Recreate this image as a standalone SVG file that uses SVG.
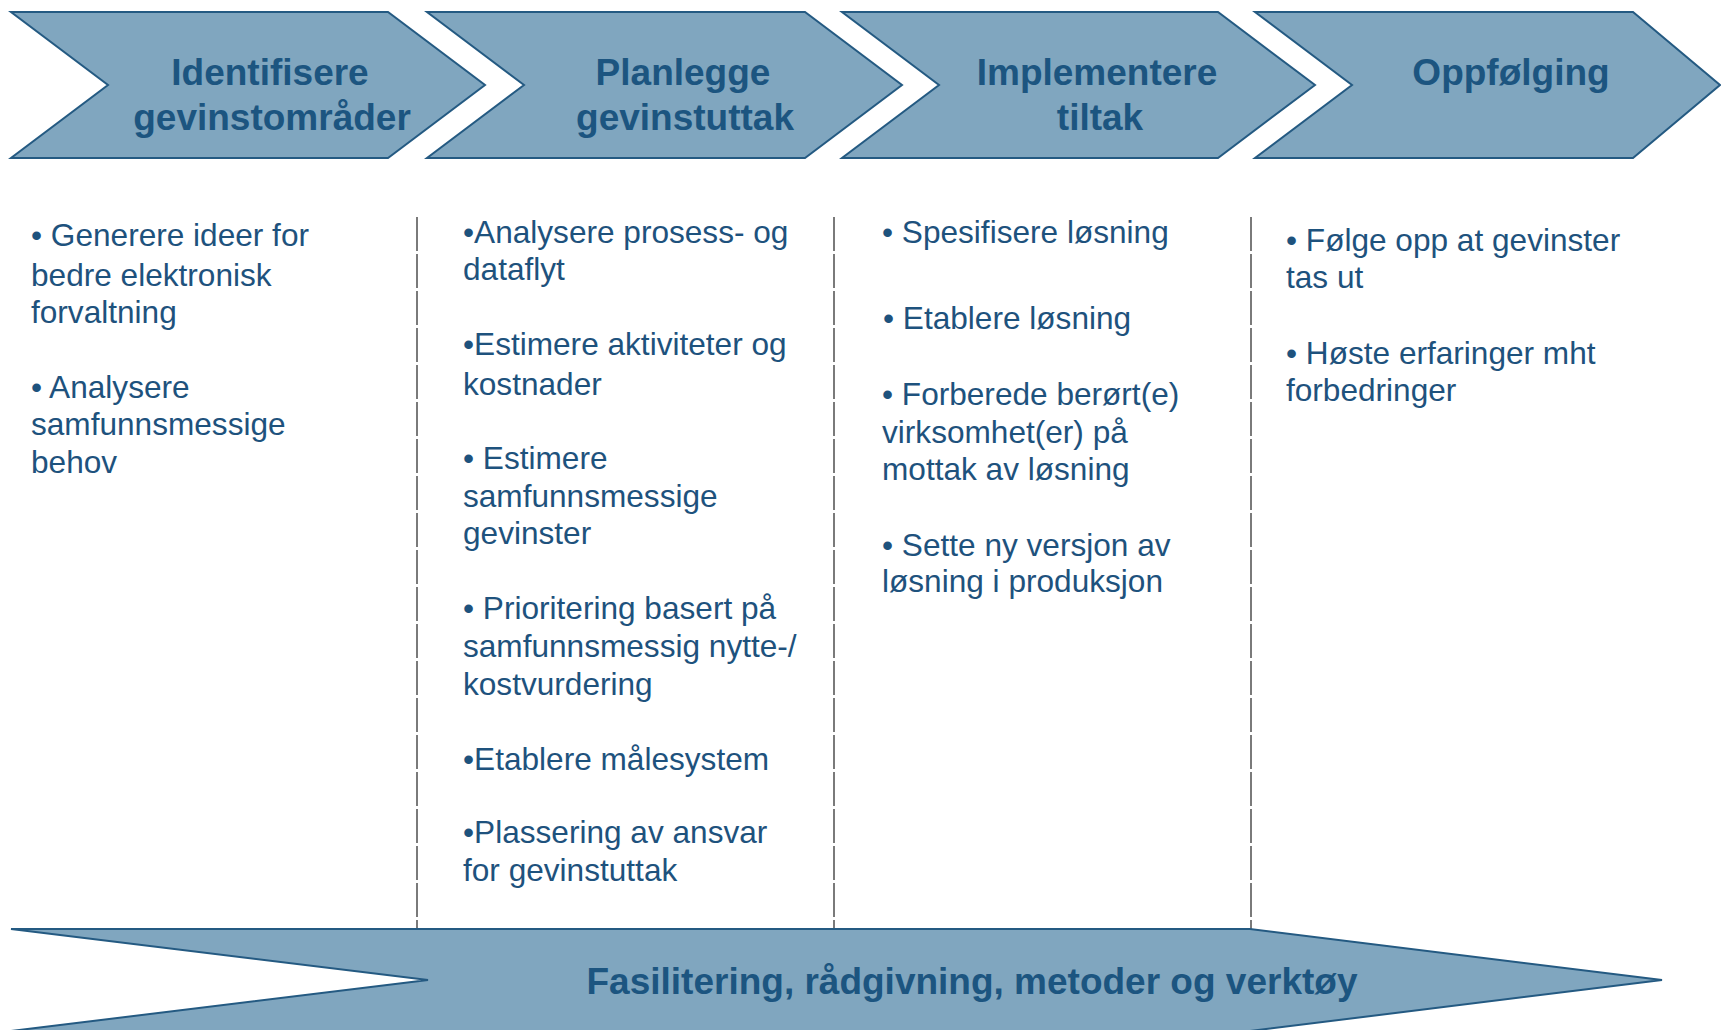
<svg xmlns="http://www.w3.org/2000/svg" width="1721" height="1030" viewBox="0 0 1721 1030">
  <style>
    .shape { fill: #80a6bf; stroke: #245a82; stroke-width: 2; stroke-linejoin: miter; }
    .title { font-family: "Liberation Sans", Arial, sans-serif; font-weight: bold; font-size: 37px; fill: #1c5580; text-anchor: middle; }
    .body { font-family: "Liberation Sans", Arial, sans-serif; font-size: 31.6px; fill: #1e527d; }
    .divider { stroke: #7a7a7a; stroke-width: 2; stroke-dasharray: 34 3; fill: none; }
  </style>
  <rect width="1721" height="1030" fill="#ffffff"/>

  <g id="connectors">
    <line class="divider" x1="417" y1="217" x2="417" y2="929"/>
    <line class="divider" x1="834" y1="217" x2="834" y2="929"/>
    <line class="divider" x1="1251" y1="217" x2="1251" y2="929"/>
  </g>

  <g id="step-identifisere">
    <polygon class="shape" points="11,12 388,12 485,85 388,158 11,158 108,85"/>
    <text class="title" x="270" y="85">Identifisere</text>
    <text class="title" x="272" y="130">gevinstområder</text>
  </g>
  <g id="step-planlegge">
    <polygon class="shape" points="427,12 805,12 902,85 805,158 427,158 524,85"/>
    <text class="title" x="683" y="85">Planlegge</text>
    <text class="title" x="685" y="130">gevinstuttak</text>
  </g>
  <g id="step-implementere">
    <polygon class="shape" points="842,12 1218,12 1315,85 1218,158 842,158 939,85"/>
    <text class="title" x="1097" y="85">Implementere</text>
    <text class="title" x="1100" y="130">tiltak</text>
  </g>
  <g id="step-oppfolging">
    <polygon class="shape" points="1255,12 1633,12 1720,85 1633,158 1255,158 1352,85"/>
    <text class="title" x="1511" y="85">Oppfølging</text>
  </g>

  <g id="col-identifisere">
    <text class="body">
      <tspan x="31" y="246">• Generere ideer for</tspan>
      <tspan x="31" y="286">bedre elektronisk</tspan>
      <tspan x="31" y="323">forvaltning</tspan>
      <tspan x="31" y="398">• Analysere</tspan>
      <tspan x="31" y="435">samfunnsmessige</tspan>
      <tspan x="31" y="473">behov</tspan>
    </text>
  </g>
  <g id="col-planlegge">
    <text class="body">
      <tspan x="463" y="243">•Analysere prosess- og</tspan>
      <tspan x="463" y="280">dataflyt</tspan>
      <tspan x="463" y="355">•Estimere aktiviteter og</tspan>
      <tspan x="463" y="395">kostnader</tspan>
      <tspan x="463" y="469">• Estimere</tspan>
      <tspan x="463" y="507">samfunnsmessige</tspan>
      <tspan x="463" y="544">gevinster</tspan>
      <tspan x="463" y="619">• Prioritering basert på</tspan>
      <tspan x="463" y="657">samfunnsmessig nytte-/</tspan>
      <tspan x="463" y="695">kostvurdering</tspan>
      <tspan x="463" y="770">•Etablere målesystem</tspan>
      <tspan x="463" y="843">•Plassering av ansvar</tspan>
      <tspan x="463" y="881">for gevinstuttak</tspan>
    </text>
  </g>
  <g id="col-implementere">
    <text class="body">
      <tspan x="882" y="243">• Spesifisere løsning</tspan>
      <tspan x="883" y="329">• Etablere løsning</tspan>
      <tspan x="882" y="405">• Forberede berørt(e)</tspan>
      <tspan x="882" y="443">virksomhet(er) på</tspan>
      <tspan x="882" y="480">mottak av løsning</tspan>
      <tspan x="882" y="556">• Sette ny versjon av</tspan>
      <tspan x="882" y="592">løsning i produksjon</tspan>
    </text>
  </g>
  <g id="col-oppfolging">
    <text class="body">
      <tspan x="1286" y="251">• Følge opp at gevinster</tspan>
      <tspan x="1286" y="288">tas ut</tspan>
      <tspan x="1286" y="364">• Høste erfaringer mht</tspan>
      <tspan x="1286" y="401">forbedringer</tspan>
    </text>
  </g>

  <g id="support-arrow">
    <polygon class="shape" points="11,929 1250,929 1662,980 1250,1031 11,1031 428,980"/>
    <text class="title" x="972" y="994">Fasilitering, rådgivning, metoder og verktøy</text>
  </g>
</svg>
